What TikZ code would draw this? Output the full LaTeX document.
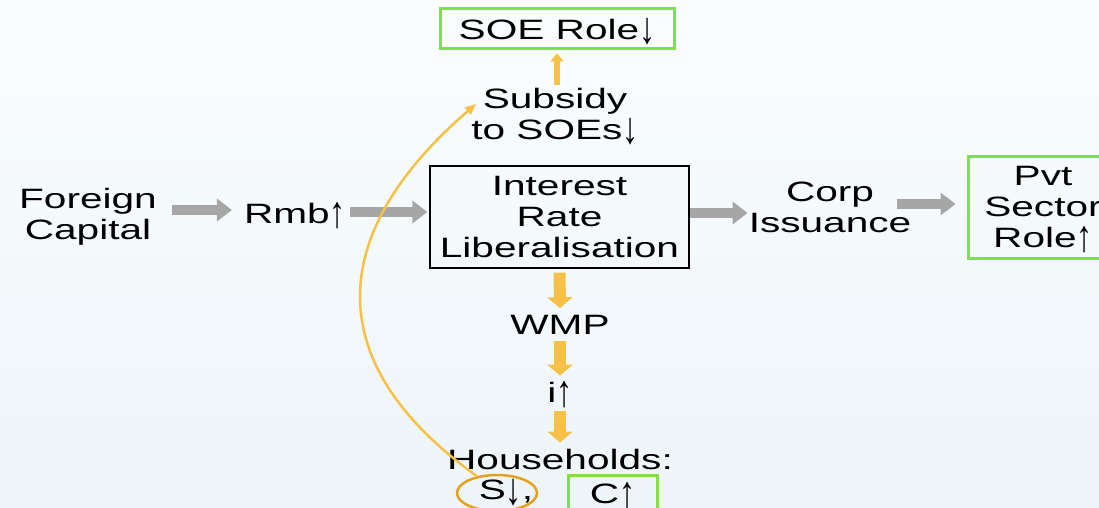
\documentclass[tikz,border=0pt]{standalone}
\usepackage{fontspec}
\setmainfont{Liberation Sans}[FakeStretch=1.45]
\newfontfamily\arrfont{Liberation Sans}
\newcommand\uarr{{\arrfont\smash{\raisebox{-0.15em}{\scalebox{1.15}[1.6]{↑}}}}}
\newcommand\darr{{\arrfont\smash{\raisebox{-0.15em}{\scalebox{1.15}[1.6]{↓}}}}}
\usetikzlibrary{arrows.meta,calc,shapes.geometric}
\definecolor{garrow}{HTML}{A6A6A6}
\definecolor{oarrow}{HTML}{F6C146}
\definecolor{lgreen}{HTML}{82E046}
\definecolor{oring}{HTML}{E3A21A}
\definecolor{bgtop}{HTML}{FAFDFE}
\definecolor{bgbot}{HTML}{EDF5F9}
\begin{document}
\begin{tikzpicture}[x=1pt,y=-1pt,
  txt/.style={inner sep=0pt, align=center, font=\fontsize{28}{31}\selectfont},
  gbox/.style={txt, draw=lgreen, line width=3pt},
  grayarr/.style={draw=garrow, line width=10pt, -{Triangle[length=15pt,width=22pt]}},
  orarr/.style={draw=oarrow, line width=12pt, -{Triangle[length=11pt,width=25pt]}},
  orthin/.style={draw=oarrow, line width=6pt, -{Triangle[length=8pt,width=13pt]}},
  curvearr/.style={draw=oarrow, line width=2.5pt, -{Triangle[length=11pt,width=9pt]}},
]
\useasboundingbox (0,0) rectangle (1099,508);
\fill[top color=bgtop, bottom color=bgbot] (0,508) rectangle (1099,0);

\node[gbox, minimum width=234pt, minimum height=40pt] (soe) at (557,29) {SOE Role\darr};
\node[txt] (sub) at (555,114) {Subsidy\\to SOEs\darr};
\node[txt] (fc) at (88,217) {Foreign\\Capital};
\node[txt] (rmb) at (295,213) {Rmb\uarr};
\node[txt, draw=black, line width=1.2pt, minimum width=259pt, minimum height=102pt] (irl) at (559.5,217) {Interest\\Rate\\Liberalisation};
\node[txt] (corp) at (830,207) {Corp\\Issuance};
\node[gbox, minimum width=150pt, minimum height=102pt] (pvt) at (1043,207) {Pvt\\Sector\\Role\uarr};
\node[txt] (wmp) at (560,325) {WMP};
\node[txt] (iup) at (560,392) {i\uarr};
\node[txt] (hh) at (560,459) {Households:};
\node[txt] (s) at (506,492) {S\darr,};
\node[draw=oring, line width=2.5pt, ellipse, minimum width=80pt, minimum height=36pt, inner sep=0pt] (ell) at (497,493) {};
\node[gbox, minimum width=89pt, minimum height=38pt] (cbox) at (612.5,494) {C\uarr};

\draw[grayarr] ([xshift=15pt,yshift=7pt]fc.east) -- ([xshift=-12pt,yshift=3pt]rmb.west);
\draw[grayarr] ([xshift=4pt,yshift=1pt]rmb.east) -- ([xshift=-2pt,yshift=5pt]irl.west);
\draw[grayarr] ([yshift=4pt]irl.east) -- ([xshift=-1pt,yshift=-6pt]corp.west);
\draw[grayarr] ([xshift=-14pt,yshift=3pt]corp.east) -- ([xshift=-11pt,yshift=3pt]pvt.west);

\draw[orthin] ([yshift=3pt]sub.north -| soe.south) -- ([yshift=-3pt]soe.south);
\draw[orarr] ([yshift=-4pt]irl.south) -- ([yshift=7pt]wmp.north);
\draw[orarr] ([yshift=-6pt]wmp.south) -- ([yshift=6pt]iup.north);
\draw[orarr] ([yshift=-9pt]iup.south) -- ([yshift=6pt]hh.north);

\draw[curvearr] (ell.140) .. controls (315,360) and (330,230) .. ($(sub.center)+(-79,-10)$);
\end{tikzpicture}
\end{document}
